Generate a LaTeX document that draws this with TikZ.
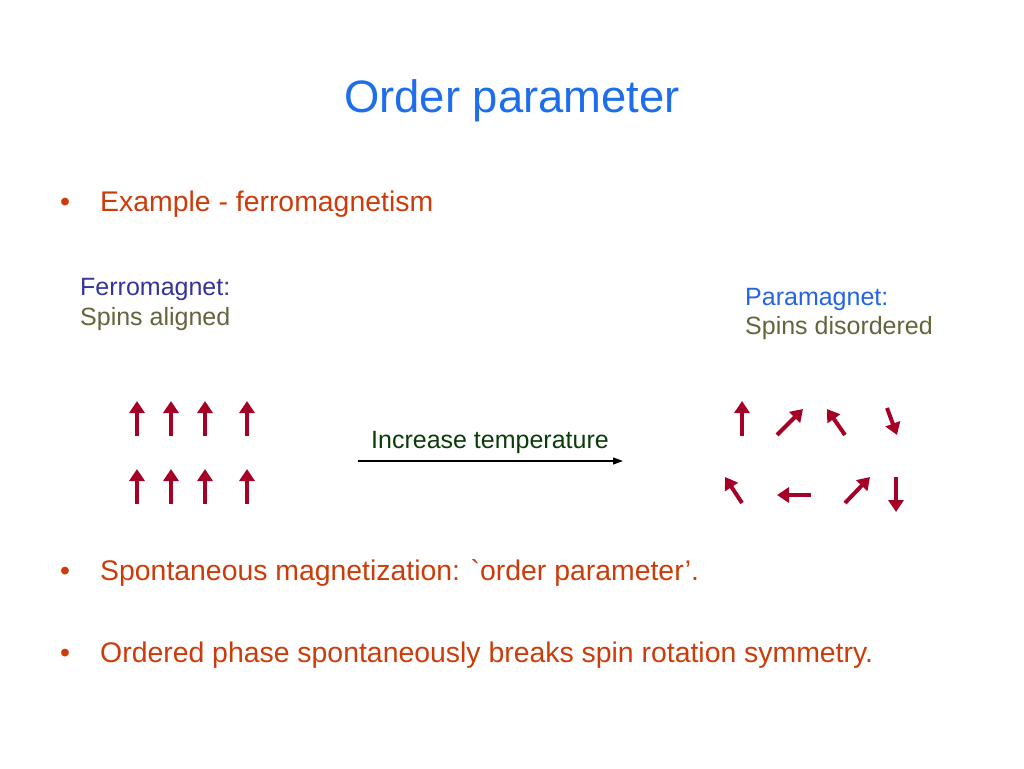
\documentclass[tikz,border=0pt]{standalone}
\usepackage{fontspec}
\setmainfont{Liberation Sans}
\usetikzlibrary{arrows.meta}
\definecolor{titleblue}{RGB}{30,110,235}
\definecolor{bulletred}{RGB}{204,60,10}
\definecolor{ferroblue}{RGB}{51,51,153}
\definecolor{parablue}{RGB}{35,100,230}
\definecolor{spinsolive}{RGB}{100,100,60}
\definecolor{tempgreen}{RGB}{10,60,10}
\definecolor{spinred}{RGB}{165,0,38}
\begin{document}
\begin{tikzpicture}[x=1pt,y=-1pt,
    every node/.style={inner sep=0pt, anchor=base west},
    bullettext/.style={bulletred, font=\fontsize{28.4}{34}\selectfont},
    label/.style={font=\fontsize{25}{30}\selectfont},
    spin/.style={draw=spinred, line width=4pt, -{Triangle[length=12pt,width=15pt]}}]
\useasboundingbox (0,0) rectangle (1024,768);

\node[titleblue, anchor=base, font=\fontsize{45.4}{54}\selectfont] (title) at (512,112) {Order parameter};

\node[bullettext] (b1) at (60,211) {\textbullet};
\node[bullettext] (ex) at (100,211) {Example - ferromagnetism};
\node[bullettext] (b2) at (60,580) {\textbullet};
\node[bullettext] (magn) at (100,580) {Spontaneous magnetization: \textasciigrave order parameter'.};
\node[bullettext] (b3) at (60,662) {\textbullet};
\node[bullettext] (breaks) at (100,662) {Ordered phase spontaneously breaks spin rotation symmetry.};

\node[label, ferroblue] (ferro) at (80,295) {Ferromagnet:};
\node[label, spinsolive] (aligned) at (80,325) {Spins aligned};
\node[label, parablue] (para) at (745,305) {Paramagnet:};
\node[label, spinsolive] (disord) at (745,334) {Spins disordered};

% ferromagnet spins
\foreach \x in {137,171,205,247} {
    \draw[spin] (\x,436) -- (\x,401);
    \draw[spin] (\x,504) -- (\x,469);
}

% paramagnet spins
\foreach \a/\b/\c/\d in {742/436/742/401, 777/435/803/409, 845/435/827/409,
    887/408/897/435, 742/503/725/477, 811/495/777/495, 845/503/870/477, 896/477/896/512}
    \draw[spin] (\a,\b) -- (\c,\d);

\node[label, tempgreen, anchor=base] (temp) at (490,448) {Increase temperature};
\coordinate (tfrom) at (358,461);
\coordinate (tto) at (623,461);
\draw[line width=1.2pt, -{Triangle[length=10pt,width=7pt]}] (tfrom) -- (tto);
\end{tikzpicture}
\end{document}
